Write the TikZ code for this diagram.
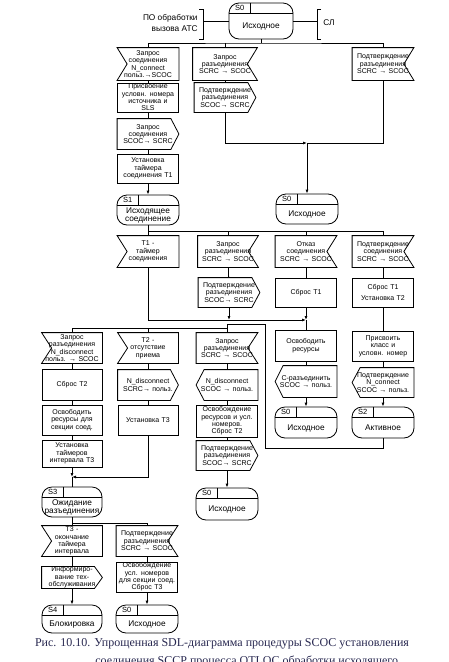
\documentclass[tikz,border=0pt]{standalone}
\usepackage{fontspec}
\setmainfont{Liberation Serif}
\newfontfamily\sdlsans{Liberation Sans}
\usetikzlibrary{arrows.meta}

\definecolor{capblue}{RGB}{40,40,80}

\tikzset{
  sdl/.style={rectangle, minimum width=61pt, minimum height=30pt, text width=58pt,
    align=center, inner sep=0pt, font=\sdlsans\fontsize{7}{7.4}\selectfont},
  task/.style={sdl, draw},
  inp/.style={sdl},
  outp/.style={sdl},
  state/.style={rectangle, draw, rounded corners=10pt, minimum width=62pt,
    minimum height=30pt, inner sep=0pt},
  stag/.style={font=\sdlsans\fontsize{7.5}{8}\selectfont, inner sep=0pt},
  stxt/.style={font=\sdlsans\fontsize{8.3}{8.8}\selectfont, align=center, inner sep=0pt},
  envtxt/.style={font=\sdlsans\fontsize{8.3}{11.5}\selectfont, inner sep=0pt},
  caption/.style={font=\fontsize{12}{13}\selectfont, text=capblue, inner sep=0pt},
}

\begin{document}
\begin{tikzpicture}[x=1pt, y=-1pt, line width=0.8pt, >={Latex[length=4pt,width=3pt]}]
  \useasboundingbox (0,0) rectangle (448,662);
  \clip (0,0) rectangle (448,662);

  % initial state and environment
  \node[state, minimum width=64pt, minimum height=36pt] (st0) at (261,21) {};
  \node[envtxt, anchor=east, align=right] (ato) at (198,23) {ПО обработки\\вызова АТС};
  \node[envtxt, anchor=west] (sl) at (323,23) {СЛ};
  \coordinate (brL) at (203,21);
  \coordinate (brR) at (317,21);
  \draw (199,9) -| (203,39) -- (199,39);
  \draw (321,9) -| (317,39) -- (321,39);
  \draw (st0.west) -- (brL);
  \draw (st0.east) -- (brR);

  % transitions from S0
  \node[inp, minimum height=32pt] (inA1) at (148,64) {Запрос\\соединения\\N\_connect\\польз.→SCOC};
  \node[inp, minimum width=64pt, minimum height=32pt] (inA2) at (225,64) {Запрос\\разъединения\\SCRC → SCOC};
  \node[inp, minimum height=32pt] (inA3) at (383,64) {Подтверждение\\разъединения\\SCRC → SCOC};
  \node[task, minimum height=29pt] (tkA1) at (148,97.5) {Присвоение\\условн. номера\\источника и\\SLS};
  \node[outp] (outA1) at (148,134) {Запрос\\соединения\\SCOC→ SCRC};
  \node[task, minimum height=29pt] (tkA2) at (148,168.5) {Установка\\таймера\\соединения T1};
  \node[state] (st1) at (148,210) {};
  \node[outp, minimum height=29pt] (outA2) at (225,97.5) {Подтверждение\\разъединения\\SCOC→ SCRC};
  \node[state] (st0b) at (307,209) {};

  % transitions from S1
  \node[inp, minimum height=31pt] (inB1) at (148,251.5) {T1 -\\таймер\\соединения};
  \node[inp, minimum width=60pt, minimum height=31pt] (inB2) at (228,251.5) {Запрос\\разъединения\\SCRC → SCOC};
  \node[inp, minimum height=31pt] (inB3) at (306,251.5) {Отказ\\соединения\\SCRC → SCOC};
  \node[inp, minimum height=31pt] (inB4) at (383,251.5) {Подтверждение\\соединения\\SCRC → SCOC};
  \node[outp, minimum height=29pt] (outB2) at (229,292.5) {Подтверждение\\разъединения\\SCOC→ SCRC};
  \node[task, minimum height=29pt] (tkB3) at (306,292.5) {Сброс T1};
  \node[task, minimum height=29pt] (tkB4) at (383,292.5) {Сброс T1\\[3pt]Установка T2};
  \node[task, minimum height=31pt] (tkB5) at (306,345.5) {Освободить\\ресурсы};
  \node[outp, minimum height=31pt] (outB5) at (306,381.5) {С-разъединить\\SCOC → польз.};
  \node[state, minimum height=31pt] (st0c) at (306,422.5) {};
  \node[task] (tkB6) at (383,346) {Присвоить\\класс и\\условн. номер};
  \node[outp, minimum height=29pt] (outB6) at (383,382.5) {Подтверждение\\N\_connect\\SCOC → польз.};
  \node[state, minimum height=31pt] (st2) at (383,422.5) {};

  % transitions from S2
  \node[inp, minimum width=60pt] (inC1) at (72,348) {Запрос\\разъединения\\N\_disconnect\\польз. → SCOC};
  \node[inp, minimum width=60pt] (inC2) at (148,348) {T2 -\\отсутствие\\приема};
  \node[inp] (inC3) at (227,348) {Запрос\\разъединения\\SCRC → SCOC};
  \node[task, minimum width=60pt, minimum height=31pt] (tkC1a) at (72,384.5) {Сброс T2};
  \node[task, minimum width=60pt] (tkC1b) at (72,420) {Освободить\\ресурсы для\\секции соед.};
  \node[task, minimum width=60pt, minimum height=27pt] (tkC1c) at (72,453.5) {Установка\\таймеров\\интервала T3};
  \node[state, minimum width=60pt] (st3) at (72,502) {};
  \node[outp, minimum width=60pt] (outC2) at (148,385) {N\_disconnect\\SCRC→ польз.};
  \node[task, minimum width=60pt] (tkC2) at (148,420) {Установка T3};
  \node[outp] (outC3) at (227,385) {N\_disconnect\\SCOC → польз.};
  \node[task, minimum height=32pt] (tkC3) at (227,421) {Освобождение\\ресурсов и усл.\\номеров.\\Сброс T2};
  \node[outp, minimum height=29pt] (outC3b) at (227,455.5) {Подтверждение\\разъединения\\SCOC→ SCRC};
  \node[state, minimum height=32pt] (st0d) at (227,504) {};

  % transitions from S3
  \node[inp, minimum width=60pt] (inD1) at (72,541) {T3 -\\окончание\\таймера\\интервала};
  \node[inp] (inD2) at (147,541) {Подтверждение\\разъединения\\SCRC → SCOC};
  \node[outp, minimum width=60pt, minimum height=21pt] (outD1) at (72,577.5) {Информиро-\\вание тех-\\обслуживания};
  \node[state, minimum width=60pt, minimum height=28pt] (st4) at (72,619) {};
  \node[task, text width=61pt] (tkD2) at (147,577) {Освобождение\\усл. номеров\\для секции соед.\\Сброс T3};
  \node[state, minimum height=28pt] (st0e) at (147,619) {};

  % symbol outlines
  \foreach \n in {inA1,inB1,inC1,inC2,inD1}
    \draw (\n.north west) -- (\n.north east) -- (\n.south east) -- (\n.south west)
      -- ([xshift=10pt]\n.west) -- cycle;
  \foreach \n in {inA2,inA3,inB2,inB3,inB4,inC3,inD2}
    \draw (\n.north west) -- (\n.north east) -- ([xshift=-10pt]\n.east)
      -- (\n.south east) -- (\n.south west) -- cycle;
  \foreach \n in {outA1,outA2,outB2,outC2,outC3b,outD1}
    \draw (\n.north west) -- ([xshift=-8pt]\n.north east) -- (\n.east)
      -- ([xshift=-8pt]\n.south east) -- (\n.south west) -- cycle;
  \foreach \n in {outB5,outB6,outC3}
    \draw ([xshift=8pt]\n.north west) -- (\n.north east) -- (\n.south east)
      -- ([xshift=8pt]\n.south west) -- (\n.west) -- cycle;
  \foreach \n/\t/\s in {st0/S0/Исходное, st1/S1/{Исходящее\\соединение},
      st0b/S0/Исходное, st0c/S0/Исходное, st2/S2/Активное,
      st3/S3/{Ожидание\\разъединения}, st0d/S0/Исходное,
      st4/S4/Блокировка, st0e/S0/Исходное} {
    \draw ([yshift=-11pt]\n.north west) -- ([yshift=-11pt]\n.north east);
    \draw ([xshift=22pt]\n.north west) -- ([xshift=22pt,yshift=-11pt]\n.north west);
    \node[stag] (\n-tag) at ([xshift=11pt,yshift=-5.5pt]\n.north west) {\t};
    \node[stxt] (\n-txt) at ([yshift=-5.5pt]\n.center) {\s};
  }

  % connectors
  \coordinate (bA) at (261,43);
  \draw (st0) -- (bA);
  \draw (inA1.north) |- (bA) -| (inA3.north);
  \draw (inA2.north) -- (inA2.north |- bA);
  \draw (inA1) -- (tkA1) -- (outA1) -- (tkA2);
  \draw[->] (tkA2) -- (st1);
  \coordinate (j1) at (307,143);
  \draw (inA2) -- (outA2);
  \draw[->] (outA2) |- (j1);
  \draw (inA3) |- (j1);
  \draw[->] (j1) -- (st0b);

  \coordinate (bB) at (148,231);
  \draw (st1) -- (inB1);
  \draw (bB) -| (inB4.north);
  \foreach \n in {inB2,inB3}
    \draw (\n.north) -- (\n.north |- bB);
  \coordinate (j2) at (306,320);
  \draw[->] (inB1) |- (j2);
  \draw (inB2) -- (outB2);
  \draw[->] (outB2) -- (outB2.south |- j2);
  \draw (inB3) -- (tkB3);
  \draw[->] (tkB3) -- (j2);
  \draw (j2) -- (tkB5) -- (outB5);
  \draw[->] (outB5) -- (st0c);
  \draw (inB4) -- (tkB4) -- (tkB6) -- (outB6);
  \draw[->] (outB6) -- (st2);

  \coordinate (lp1) at (265,448);
  \coordinate (lp2) at (265,324);
  \draw (st2) |- (lp1) -- (lp2) -| (inC3);
  \coordinate (bC) at (72,328);
  \draw (inC1.north) |- (inC3.north |- bC);
  \draw (inC2.north) -- (inC2.north |- bC);
  \draw (inC1) -- (tkC1a) -- (tkC1b) -- (tkC1c);
  \coordinate (j3) at (72,477);
  \draw[->] (tkC1c) -- (j3);
  \draw (j3) -- (st3);
  \draw (inC2) -- (outC2) -- (tkC2);
  \draw[->] (tkC2) |- (j3);
  \draw (inC3) -- (outC3) -- (tkC3) -- (outC3b);
  \draw[->] (outC3b) -- (st0d);

  \coordinate (bD) at (72,523);
  \draw (st3) -- (inD1);
  \draw (bD) -| (inD2.north);
  \draw (inD1) -- (outD1);
  \draw[->] (outD1) -- (st4);
  \draw (inD2) -- (tkD2);
  \draw[->] (tkD2) -- (st0e);

  % caption
  \node[caption] (cap1) at (222,644) {Рис. 10.10. Упрощенная SDL-диаграмма процедуры SCOC установления};
  \node[caption, anchor=west] (cap2) at (95,661) {соединения SCCP процесса OTLOC обработки исходящего};
\end{tikzpicture}
\end{document}
